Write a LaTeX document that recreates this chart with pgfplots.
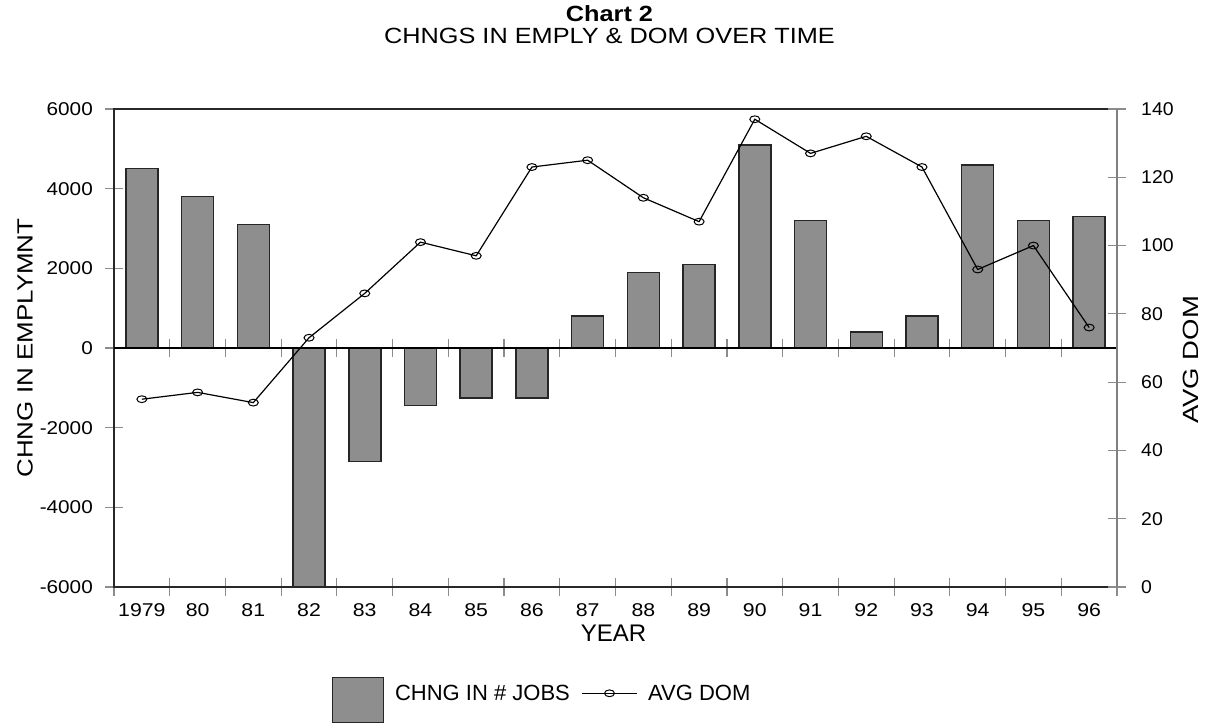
\documentclass[border=0pt]{standalone}
\usepackage{pgfplots}
\usepackage{pgfplotstable}
\pgfplotsset{compat=1.18}
\usepackage{fontspec}
\setmainfont{Liberation Sans}
\newfontfamily\fTickL[FakeStretch=1.12]{Liberation Sans}
\newfontfamily\fTickR[FakeStretch=1.05]{Liberation Sans}
\newfontfamily\fTickX[FakeStretch=1.15]{Liberation Sans}
\newfontfamily\fTitle[FakeStretch=1.15]{Liberation Sans}
\newfontfamily\fYL[FakeStretch=1.18]{Liberation Sans}
\newfontfamily\fYR[FakeStretch=1.25]{Liberation Sans}
\definecolor{barg}{RGB}{142,142,142}
\definecolor{tickg}{RGB}{140,140,140}
\definecolor{axg}{RGB}{40,40,40}

\pgfplotstableread{
x jobs dom
0 4500 55
1 3800 57
2 3100 54
3 -6000 73
4 -2850 86
5 -1440 101
6 -1250 97
7 -1250 123
8 800 125
9 1900 114
10 2100 107
11 5100 137
12 3200 127
13 400 132
14 800 123
15 4600 93
16 3200 100
17 3300 76
}\datatable

\begin{document}
\begin{tikzpicture}[x=1pt,y=1pt]
\path[use as bounding box] (0,0) rectangle (1207,727);
% bars, left axis
\begin{axis}[
  scale only axis, width=1003pt, height=478pt,
  at={(114pt,140pt)}, anchor=south west,
  xmin=-0.5, xmax=17.5, ymin=-6000, ymax=6000,
  axis line style={draw=axg, line width=1.3pt},
  tick align=center, major tick length=18pt,
  tick style={draw=tickg, line width=1.2pt},
  xtick={-0.5,0.5,...,17.5}, xticklabels={},
  xtick pos=bottom, ytick pos=left,
  extra x ticks={0,1,...,17},
  extra x tick labels={1979,80,81,82,83,84,85,86,87,88,89,90,91,92,93,94,95,96},
  extra x tick style={major tick length=0pt},
  xticklabel style={font=\fTickX\fontsize{18.5}{20}\selectfont, anchor=center, inner sep=0pt, yshift=-23pt},
  ytick={-6000,-4000,-2000,0,2000,4000,6000},
  yticklabels={-6000,-4000,-2000,0,2000,4000,6000},
  yticklabel style={font=\fTickL\fontsize{18.5}{20}\selectfont, anchor=east, inner sep=0pt, xshift=-12pt},
  ylabel={CHNG IN EMPLYMNT},
  ylabel style={font=\fYL\fontsize{22}{24}\selectfont, at={(axis description cs:-0.0887,0.5)}, anchor=center},
  xlabel={YEAR},
  xlabel style={font=\fontsize{24}{26}\selectfont, at={(axis description cs:0.498,-0.0962)}, anchor=center},
  title={\bfseries Chart 2\\CHNGS IN EMPLY \& DOM OVER TIME},
  title style={font=\fTitle\fontsize{22}{22.5}\selectfont, align=center, at={(axis description cs:0.494,1.164)}, anchor=center},
  legend style={at={(axis description cs:0.4267,-0.236)}, anchor=center, draw=none, fill=none,
    font=\fontsize{22}{24}\selectfont, legend columns=2,
    /tikz/every odd column/.append style={column sep=9pt},
    /tikz/every even column/.append style={column sep=10pt}},
]
\addplot[ybar, bar width=32pt, fill=barg, draw=black!85, line width=1.5pt,
  legend image code/.code={\draw[fill=barg, draw=black!85, line width=1.5pt] (0pt,-29pt) rectangle (51pt,16pt);}]
  table[x=x, y=jobs] {\datatable};
\addlegendentry{CHNG IN \# JOBS}
\addlegendimage{black, line width=1.2pt,
  legend image code/.code={\draw[black, line width=1.2pt, mark=o, mark size=4pt, mark options={xscale=1.25, yscale=0.85, line width=1pt}, mark repeat=2, mark phase=2] plot coordinates {(0pt,0pt) (27pt,0pt) (54pt,0pt)};}}
\addlegendentry{AVG DOM}
\end{axis}
% zero line with its ticks
\begin{axis}[
  scale only axis, width=1003pt, height=478pt,
  at={(114pt,140pt)}, anchor=south west,
  xmin=-0.5, xmax=17.5, ymin=-6000, ymax=6000,
  axis x line=middle, axis y line=none,
  x axis line style={draw=black, line width=1.3pt, -},
  tick align=center, major tick length=18pt,
  tick style={draw=tickg, line width=1.2pt},
  xtick={0.5,1.5,...,16.5}, xticklabels={}, ytick=\empty,
]
\end{axis}
% line, right axis
\begin{axis}[
  scale only axis, width=1003pt, height=478pt,
  at={(114pt,140pt)}, anchor=south west,
  xmin=-0.5, xmax=17.5, ymin=0, ymax=140,
  axis x line=none, axis y line*=right,
  y axis line style={draw=gray, line width=1.3pt, -},
  tick align=center, major tick length=18pt,
  tick style={draw=tickg, line width=1.2pt},
  ytick={0,20,...,140}, yticklabels={0,20,40,60,80,100,120,140},
  yticklabel style={font=\fTickR\fontsize{18.5}{20}\selectfont, anchor=west, inner sep=0pt, xshift=15pt},
  ylabel={AVG DOM},
  ylabel style={font=\fYR\fontsize{22}{24}\selectfont, at={(axis description cs:1.0736,0.475)}, anchor=center, rotate=0},
]
\addplot[black, line width=1.2pt, mark=o, mark size=4pt, mark options={xscale=1.25, yscale=0.85, line width=1pt}]
  table[x=x, y=dom] {\datatable};
\end{axis}
\end{tikzpicture}
\end{document}
